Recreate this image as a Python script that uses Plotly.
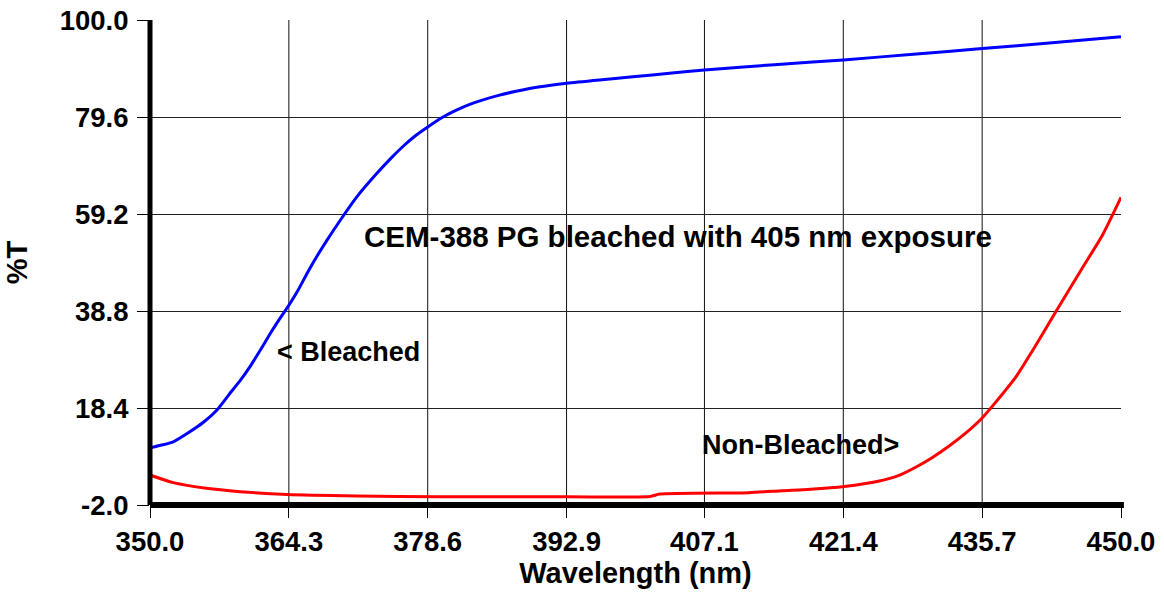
import plotly.graph_objects as go

# ---- data ----
bleached_wl = [350, 351, 352.4, 354.1, 355.5, 356.9, 358.2, 359.3, 360.3, 361.4, 362.4, 363.4,
               364.3, 365.2, 366.2, 367.1, 368.2, 369.7, 371.3, 373.3, 374.8, 376.1, 377.3, 378.6,
               380.0, 381.5, 383.0, 384.3, 386.0, 387.7, 390.0, 392.9, 396.3, 400.0, 403.5, 407.1,
               414.3, 421.4, 428.6, 435.7, 442.9, 450]
bleached_t = [10.0, 10.5, 11.3, 13.4, 15.4, 18.0, 21.4, 24.2, 27.1, 30.7, 34.1, 37.3,
              40.0, 43.0, 46.8, 50.0, 53.6, 58.2, 62.8, 67.6, 70.9, 73.5, 75.6, 77.5,
              79.4, 81.0, 82.3, 83.2, 84.2, 85.0, 85.9, 86.7, 87.4, 88.1, 88.8, 89.5,
              90.6, 91.6, 92.8, 94.0, 95.2, 96.5]

nonbleached_wl = [350, 352.4, 355.8, 359.3, 364.1, 371.3, 379.8, 390.0, 401.5, 402.5, 411.7, 415.1,
                  418.0, 421.5, 425.0, 427.2, 428.9, 430.5, 432.3, 434.0, 435.7, 436.8, 439.2,
                  440.9, 443.3, 446.0, 448.1, 450]
nonbleached_t = [4.3, 2.7, 1.5, 0.8, 0.2, -0.1, -0.25, -0.25, -0.2, 0.3, 0.6, 1.0,
                 1.3, 1.9, 3.0, 4.3, 6.0, 7.9, 10.4, 13.1, 16.3, 18.9, 25.0,
                 30.5, 38.7, 47.8, 54.8, 62.7]

x_ticks = [350.0, 364.3, 378.6, 392.9, 407.1, 421.4, 435.7, 450.0]
y_ticks = [-2.0, 18.4, 38.8, 59.2, 79.6, 100.0]
x_tick_labels = [f"{v:.1f}" for v in x_ticks]
y_tick_labels = [f"{v:.1f}" for v in y_ticks]

title_text = "CEM-388 PG bleached with 405 nm exposure"
label_bleached = "< Bleached"
label_nonbleached = "Non-Bleached>"

FONT = "Liberation Sans, Arial, sans-serif"

fig = go.Figure()
fig.add_trace(go.Scatter(x=bleached_wl, y=bleached_t, mode="lines",
                         line=dict(color="#0000FF", width=3, shape="spline", smoothing=0.6),
                         showlegend=False))
fig.add_trace(go.Scatter(x=nonbleached_wl, y=nonbleached_t, mode="lines",
                         line=dict(color="#FF0000", width=3, shape="spline", smoothing=0.6),
                         showlegend=False))

shapes = []
# vertical grid lines at interior x ticks
for v in x_ticks[1:-1]:
    shapes.append(dict(type="line", xref="x", yref="paper", x0=v, x1=v, y0=0, y1=1,
                       line=dict(color="#111111", width=1), layer="below"))
# heavy axis lines
shapes.append(dict(type="line", xref="paper", yref="paper", x0=0, x1=0, y0=0, y1=1,
                   line=dict(color="black", width=5), layer="above"))
shapes.append(dict(type="line", xref="paper", yref="paper", x0=0, x1=1.003, y0=0, y1=0,
                   line=dict(color="black", width=6), layer="above"))

annotations = [
    dict(x=371.8, y=54.4, xref="x", yref="y", text=title_text, showarrow=False,
         xanchor="left", yanchor="middle", font=dict(family=FONT, size=29.5, color="black", weight="bold")),
    dict(x=362.9, y=30.2, xref="x", yref="y", text=label_bleached, showarrow=False,
         xanchor="left", yanchor="middle", font=dict(family=FONT, size=27, color="black", weight="bold")),
    dict(x=406.6, y=10.6, xref="x", yref="y", text=label_nonbleached, showarrow=False,
         xanchor="left", yanchor="middle", font=dict(family=FONT, size=27, color="black", weight="bold")),
]

fig.update_layout(
    width=1164, height=592,
    margin=dict(l=150, r=43, t=20, b=87),
    paper_bgcolor="white", plot_bgcolor="white",
    font=dict(family=FONT, color="black"),
    shapes=shapes, annotations=annotations,
    xaxis=dict(
        range=[350, 450], tickmode="array", tickvals=x_ticks, ticktext=x_tick_labels,
        showgrid=False, zeroline=False, showline=False, automargin=False,
        ticks="outside", ticklen=12, tickwidth=1, tickcolor="black",
        tickfont=dict(family=FONT, size=27.5, color="black", weight="bold"),
        title=dict(text="Wavelength (nm)", font=dict(family=FONT, size=29, color="black", weight="bold"),
                   standoff=2),
        fixedrange=True,
    ),
    yaxis=dict(
        range=[-2, 100], tickmode="array", tickvals=y_ticks, ticktext=y_tick_labels,
        showgrid=True, gridcolor="#222222", gridwidth=1, zeroline=False, showline=False, automargin=False,
        ticks="outside", ticklen=12, tickwidth=1, tickcolor="black", ticklabelstandoff=3,
        tickfont=dict(family=FONT, size=27.5, color="black", weight="bold"),
        title=dict(text="%T", font=dict(family=FONT, size=29, color="black", weight="bold"),
                   standoff=23),
        fixedrange=True,
    ),
)

fig.write_html("out.html", config={"displayModeBar": False})
